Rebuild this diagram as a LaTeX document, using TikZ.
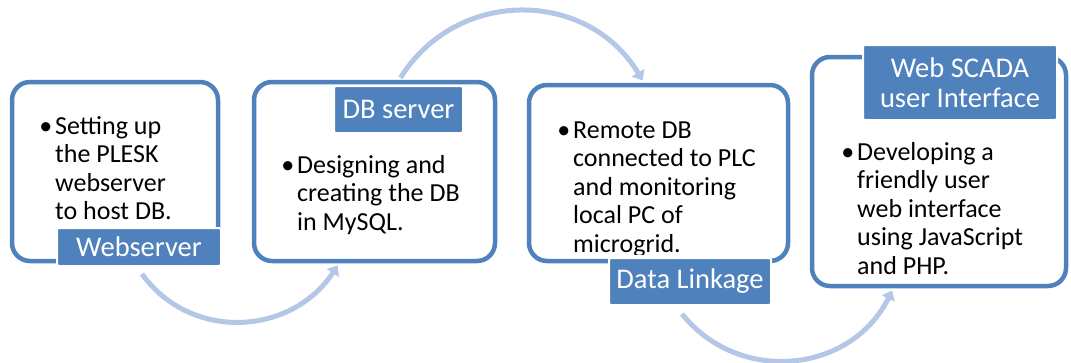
\documentclass[tikz,border=0pt]{standalone}
\usepackage{fontspec}
\setmainfont{Carlito}
\usetikzlibrary{arrows.meta,calc}
\definecolor{boxblue}{HTML}{4F81BD}
\definecolor{arrowblue}{HTML}{B4C7E7}
\begin{document}
\begin{tikzpicture}[x=1pt,y=-1pt,
  stagebox/.style={draw=boxblue, line width=4.5pt, fill=white, rounded corners=18pt, inner sep=0pt},
  tag/.style={fill=boxblue, draw=white, line width=2pt, rounded corners=2pt, text=white,
    font=\fontsize{28.5}{30}\selectfont, align=center, inner sep=0pt},
  body/.style={anchor=north west, inner sep=0pt, align=left, font=\fontsize{26}{28.5}\selectfont},
  flow/.style={draw=arrowblue, line width=5pt, -{Triangle[length=9pt,width=14pt]}}]
\useasboundingbox (0,0) rectangle (1071,362);

% stage boxes
\node[stagebox, minimum width=206pt, minimum height=179pt] (box1) at (115,171.5) {};
\node[stagebox, minimum width=241pt, minimum height=179pt] (box2) at (374.5,171.5) {};
\node[stagebox, minimum width=259pt, minimum height=176pt] (box3) at (658.5,173) {};
\node[stagebox, minimum width=254pt, minimum height=229pt] (box4) at (939,171.5) {};

% body texts
\node[body] (t1) at (55,114) {\strut\llap{•\hspace{3pt}}Setting up\\the PLESK\\webserver\\to host DB.};
\node[body] (t2) at (297,153) {\strut\llap{•\hspace{3pt}}Designing and\\creating the DB\\in MySQL.};
\begin{scope}
  \clip (box3.north west) rectangle ($(box3.south east)+(0,-9)$);
  \node[body] (t3) at (573,118) {\strut\llap{•\hspace{3pt}}Remote DB\\connected to PLC\\and monitoring\\local PC of\\microgrid.};
\end{scope}
\node[body] (t4) at (857,140) {\strut\llap{•\hspace{3pt}}Developing a\\friendly user\\web interface\\using JavaScript\\and PHP.};

% labels
\node[tag, minimum width=164pt, minimum height=38pt] (L1) at (139,247) {Webserver};
\node[tag, minimum width=129pt, minimum height=47pt] (L2) at (398.5,109.5) {DB server};
\node[tag, minimum width=162pt, minimum height=47pt] (L3) at (690,281.5) {Data Linkage};
\node[tag, minimum width=194pt, minimum height=75pt] (L4) at (960,82.5) {Web SCADA\\user Interface};

% flow arrows
\draw[flow] ($(L1.south)+(3,7)$) .. controls +(49,68) and +(-46,70) .. ($(box2.south west)!0.35!(box2.south east)+(0,2.25)$);
\draw[flow] ($(box2.north west)!0.606!(box2.north east)+(0,-2)$) .. controls +(56.5,-90.5) and +(-55,-91.5) .. ($(box3.north west)!0.44!(box3.north east)+(0,-2.25)$);
\draw[flow] ($(L3.south)+(-8,8)$) .. controls +(57.8,71.6) and +(-40.9,82.4) .. ($(box4.south west)!0.319!(box4.south east)+(0,2.25)$);
\end{tikzpicture}
\end{document}
